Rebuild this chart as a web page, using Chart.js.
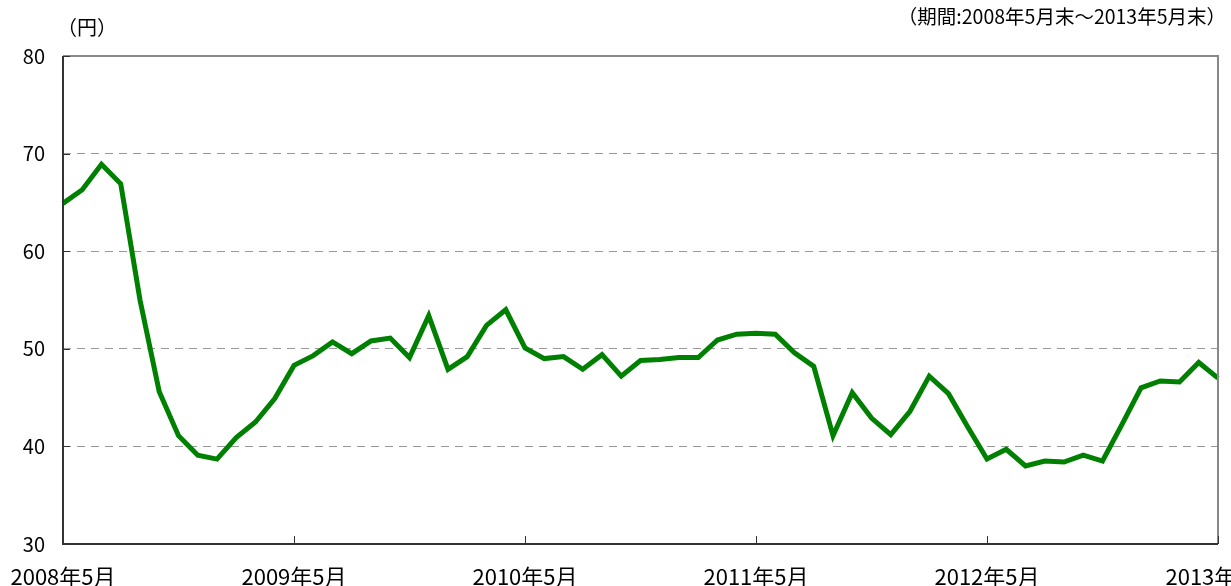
<!DOCTYPE html>
<html>
<head>
<meta charset="utf-8">
<script src="https://cdn.jsdelivr.net/npm/chart.js@4"></script>
<style>
  html, body { margin: 0; padding: 0; background: #fff; }
  #wrap { position: relative; width: 1231px; height: 586px; }
</style>
</head>
<body>
<div id="wrap"><canvas id="priceChart" width="1231" height="586"></canvas></div>
<script>
// Monthly month-end prices, 2008/5 .. 2013/5
const startYear = 2008;
const startMonth = 5;
const prices = [
    64.9, 66.3, 68.9, 66.9, 55.0, 45.6, 41.1, 39.1, 38.7, 40.9, 42.5, 44.9,
    48.3, 49.3, 50.7, 49.5, 50.8, 51.1, 49.1, 53.4, 47.9, 49.2, 52.4, 54.0,
    50.1, 49.0, 49.2, 47.9, 49.4, 47.2, 48.8, 48.9, 49.1, 49.1, 50.9, 51.5,
    51.6, 51.5, 49.6, 48.2, 41.1, 45.5, 42.9, 41.2, 43.6, 47.2, 45.4, 42.0,
    38.7, 39.7, 38.0, 38.5, 38.4, 39.1, 38.5, 42.2, 46.0, 46.7, 46.6, 48.6,
    47.0
];
const tickLabels = ['2008年5月', '2009年5月', '2010年5月', '2011年5月', '2012年5月', '2013年5月'];
const yTicks = [30, 40, 50, 60, 70, 80];
const unitLabel = '（円）';
const periodLabel = '（期間:2008年5月末～2013年5月末）';

// category labels, one per month
const months = [];
for (let i = 0; i < prices.length; i++) {
    const m = (startMonth - 1 + i) % 12 + 1;
    const y = startYear + Math.floor((startMonth - 1 + i) / 12);
    months.push(`${y}年${m}月`);
}

const FONT = "'Noto Sans CJK JP', 'Noto Sans', sans-serif";

// inside tick marks, plot frame, x labels and header texts
const decorations = {
    id: 'decorations',
    afterDatasetsDraw(chart) {
        const { ctx, chartArea: a, scales: { x, y } } = chart;
        ctx.save();
        // frame top / right
        ctx.strokeStyle = '#888';
        ctx.lineWidth = 2;
        ctx.beginPath();
        ctx.moveTo(a.left, a.top);
        ctx.lineTo(a.right, a.top);
        ctx.lineTo(a.right, a.bottom);
        ctx.stroke();
        // axes left / bottom
        ctx.strokeStyle = '#333';
        ctx.beginPath();
        ctx.moveTo(a.left, a.top);
        ctx.lineTo(a.left, a.bottom);
        ctx.lineTo(a.right, a.bottom);
        ctx.stroke();
        // tick marks
        ctx.lineWidth = 1;
        ctx.beginPath();
        yTicks.forEach(v => {
            const py = Math.round(y.getPixelForValue(v)) + 0.5;
            ctx.moveTo(a.left, py);
            ctx.lineTo(a.left + 7, py);
        });
        tickLabels.forEach(lbl => {
            const idx = months.indexOf(lbl);
            if (idx < 0) return;
            const px = Math.round(x.getPixelForValue(idx)) + 0.5;
            ctx.moveTo(px, a.bottom);
            ctx.lineTo(px, a.bottom - 8);
        });
        ctx.stroke();
        // x labels, centred under their ticks (last one runs off the edge)
        ctx.fillStyle = '#000';
        ctx.textBaseline = 'middle';
        ctx.textAlign = 'center';
        ctx.font = `22px ${FONT}`;
        tickLabels.forEach(lbl => {
            const idx = months.indexOf(lbl);
            if (idx < 0) return;
            ctx.fillText(lbl, x.getPixelForValue(idx), a.bottom + 33);
        });
        // header texts
        ctx.font = `20px ${FONT}`;
        ctx.textAlign = 'left';
        ctx.fillText(unitLabel, 57, 27);
        ctx.font = `19.5px ${FONT}`;
        ctx.textAlign = 'right';
        ctx.fillText(periodLabel, 1226, 17);
        ctx.restore();
    }
};

const ctx = document.getElementById('priceChart').getContext('2d');
const priceChart = new Chart(ctx, {
    type: 'line',
    data: {
        labels: months,
        datasets: [{
            data: prices,
            borderColor: '#008000',
            borderWidth: 5,
            pointRadius: 0,
            tension: 0,
            fill: false
        }]
    },
    options: {
        responsive: false,
        animation: false,
        layout: {
            autoPadding: false,
            padding: { left: 0, right: 13, top: 56, bottom: 0 }
        },
        plugins: {
            legend: { display: false },
            tooltip: { enabled: false }
        },
        scales: {
            x: {
                type: 'category',
                offset: false,
                grid: { display: false, drawTicks: false },
                border: { display: false },
                ticks: { display: false },
                afterFit: s => { s.height = 42; }
            },
            y: {
                min: 30,
                max: 80,
                afterFit: s => { s.width = 63; },
                grid: {
                    color: '#999',
                    lineWidth: 1,
                    drawTicks: false
                },
                border: { display: false, dash: [8, 6] },
                ticks: {
                    stepSize: 10,
                    padding: 18,
                    color: '#000',
                    font: { family: FONT, size: 20 }
                }
            }
        }
    },
    plugins: [decorations]
});
</script>
</body>
</html>
